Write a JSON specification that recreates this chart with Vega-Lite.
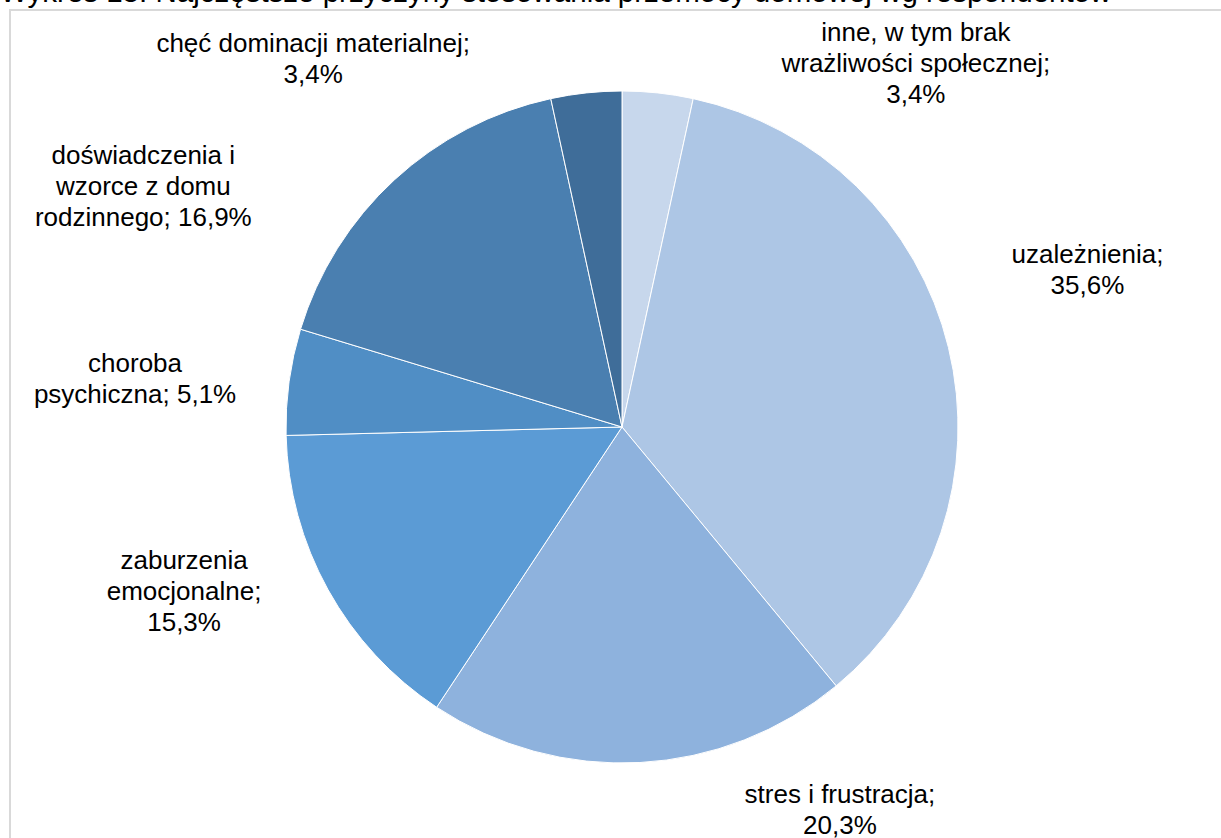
{
  "$schema": "https://vega.github.io/schema/vega-lite/v6.json",
  "width": 1224,
  "height": 834,
  "autosize": {"type": "none"},
  "padding": {"left": 10, "top": 10, "right": -13, "bottom": -6},
  "background": "white",
  "title": {
    "text": "Wykres 15. Najczęstsze przyczyny stosowania przemocy domowej wg respondentów",
    "anchor": "start",
    "frame": "group",
    "orient": "top",
    "baseline": "alphabetic",
    "offset": -44,
    "dx": -10,
    "font": "Liberation Sans",
    "fontSize": 29.5,
    "fontWeight": "normal",
    "color": "#000000"
  },
  "config": {
    "view": {"stroke": null},
    "text": {"font": "Liberation Sans"}
  },
  "data": {
    "values": [
      {"k": "inne, w tym brak wrażliwości społecznej", "idx": 1, "v": 3.4, "label": "inne, w tym brak\nwrażliwości społecznej;\n3,4%"},
      {"k": "uzależnienia", "idx": 2, "v": 35.6, "label": "uzależnienia;\n35,6%"},
      {"k": "stres i frustracja", "idx": 3, "v": 20.3, "label": "stres i frustracja;\n20,3%"},
      {"k": "zaburzenia emocjonalne", "idx": 4, "v": 15.3, "label": "zaburzenia\nemocjonalne;\n15,3%"},
      {"k": "choroba psychiczna", "idx": 5, "v": 5.1, "label": "choroba\npsychiczna; 5,1%"},
      {"k": "doświadczenia i wzorce z domu rodzinnego", "idx": 6, "v": 16.9, "label": "doświadczenia i\nwzorce z domu\nrodzinnego; 16,9%"},
      {"k": "chęć dominacji materialnej", "idx": 7, "v": 3.4, "label": "chęć dominacji materialnej;\n3,4%"}
    ]
  },
  "layer": [
    {
      "mark": {"type": "rect", "fill": null, "fillOpacity": 0, "stroke": "#d9d9d9", "strokeWidth": 1.5},
      "encoding": {}
    },
    {
      "mark": {"type": "arc", "outerRadius": 336, "stroke": "white", "strokeWidth": 1},
      "encoding": {
        "theta": {"field": "v", "type": "quantitative", "stack": true},
        "order": {"field": "idx", "type": "quantitative"},
        "color": {
          "field": "k",
          "type": "nominal",
          "sort": {"field": "idx"},
          "scale": {
            "domain": ["inne, w tym brak wrażliwości społecznej", "uzależnienia", "stres i frustracja", "zaburzenia emocjonalne", "choroba psychiczna", "doświadczenia i wzorce z domu rodzinnego", "chęć dominacji materialnej"],
            "range": ["#c7d7ec", "#adc6e5", "#8eb2dd", "#5b9bd5", "#508ec5", "#4a7fb0", "#3f6d99"]
          },
          "legend": null
        }
      }
    },
    {
      "mark": {"type": "text", "radius": 336, "dx": 258, "dy": -60, "fontSize": 26, "lineHeight": 31, "lineBreak": "\n", "align": "center", "baseline": "middle", "color": "#000000"},
      "encoding": {
        "theta": {"field": "v", "type": "quantitative", "stack": true},
        "order": {"field": "idx", "type": "quantitative"},
        "text": {"condition": {"test": "datum.idx == 1", "field": "label"}, "value": ""}
      }
    },
    {
      "mark": {"type": "text", "radius": 336, "dx": 139, "dy": -92.5, "fontSize": 26, "lineHeight": 31, "lineBreak": "\n", "align": "center", "baseline": "middle", "color": "#000000"},
      "encoding": {
        "theta": {"field": "v", "type": "quantitative", "stack": true},
        "order": {"field": "idx", "type": "quantitative"},
        "text": {"condition": {"test": "datum.idx == 2", "field": "label"}, "value": ""}
      }
    },
    {
      "mark": {"type": "text", "radius": 336, "dx": 200, "dy": 32.5, "fontSize": 26, "lineHeight": 31, "lineBreak": "\n", "align": "center", "baseline": "middle", "color": "#000000"},
      "encoding": {
        "theta": {"field": "v", "type": "quantitative", "stack": true},
        "order": {"field": "idx", "type": "quantitative"},
        "text": {"condition": {"test": "datum.idx == 3", "field": "label"}, "value": ""}
      }
    },
    {
      "mark": {"type": "text", "radius": 336, "dx": -144, "dy": -29, "fontSize": 26, "lineHeight": 31, "lineBreak": "\n", "align": "center", "baseline": "middle", "color": "#000000"},
      "encoding": {
        "theta": {"field": "v", "type": "quantitative", "stack": true},
        "order": {"field": "idx", "type": "quantitative"},
        "text": {"condition": {"test": "datum.idx == 4", "field": "label"}, "value": ""}
      }
    },
    {
      "mark": {"type": "text", "radius": 336, "dx": -154, "dy": -17.5, "fontSize": 26, "lineHeight": 31, "lineBreak": "\n", "align": "center", "baseline": "middle", "color": "#000000"},
      "encoding": {
        "theta": {"field": "v", "type": "quantitative", "stack": true},
        "order": {"field": "idx", "type": "quantitative"},
        "text": {"condition": {"test": "datum.idx == 5", "field": "label"}, "value": ""}
      }
    },
    {
      "mark": {"type": "text", "radius": 336, "dx": -251, "dy": -24, "fontSize": 26, "lineHeight": 31, "lineBreak": "\n", "align": "center", "baseline": "middle", "color": "#000000"},
      "encoding": {
        "theta": {"field": "v", "type": "quantitative", "stack": true},
        "order": {"field": "idx", "type": "quantitative"},
        "text": {"condition": {"test": "datum.idx == 6", "field": "label"}, "value": ""}
      }
    },
    {
      "mark": {"type": "text", "radius": 336, "dx": -273, "dy": -48.5, "fontSize": 26, "lineHeight": 31, "lineBreak": "\n", "align": "center", "baseline": "middle", "color": "#000000"},
      "encoding": {
        "theta": {"field": "v", "type": "quantitative", "stack": true},
        "order": {"field": "idx", "type": "quantitative"},
        "text": {"condition": {"test": "datum.idx == 7", "field": "label"}, "value": ""}
      }
    }
  ]
}
